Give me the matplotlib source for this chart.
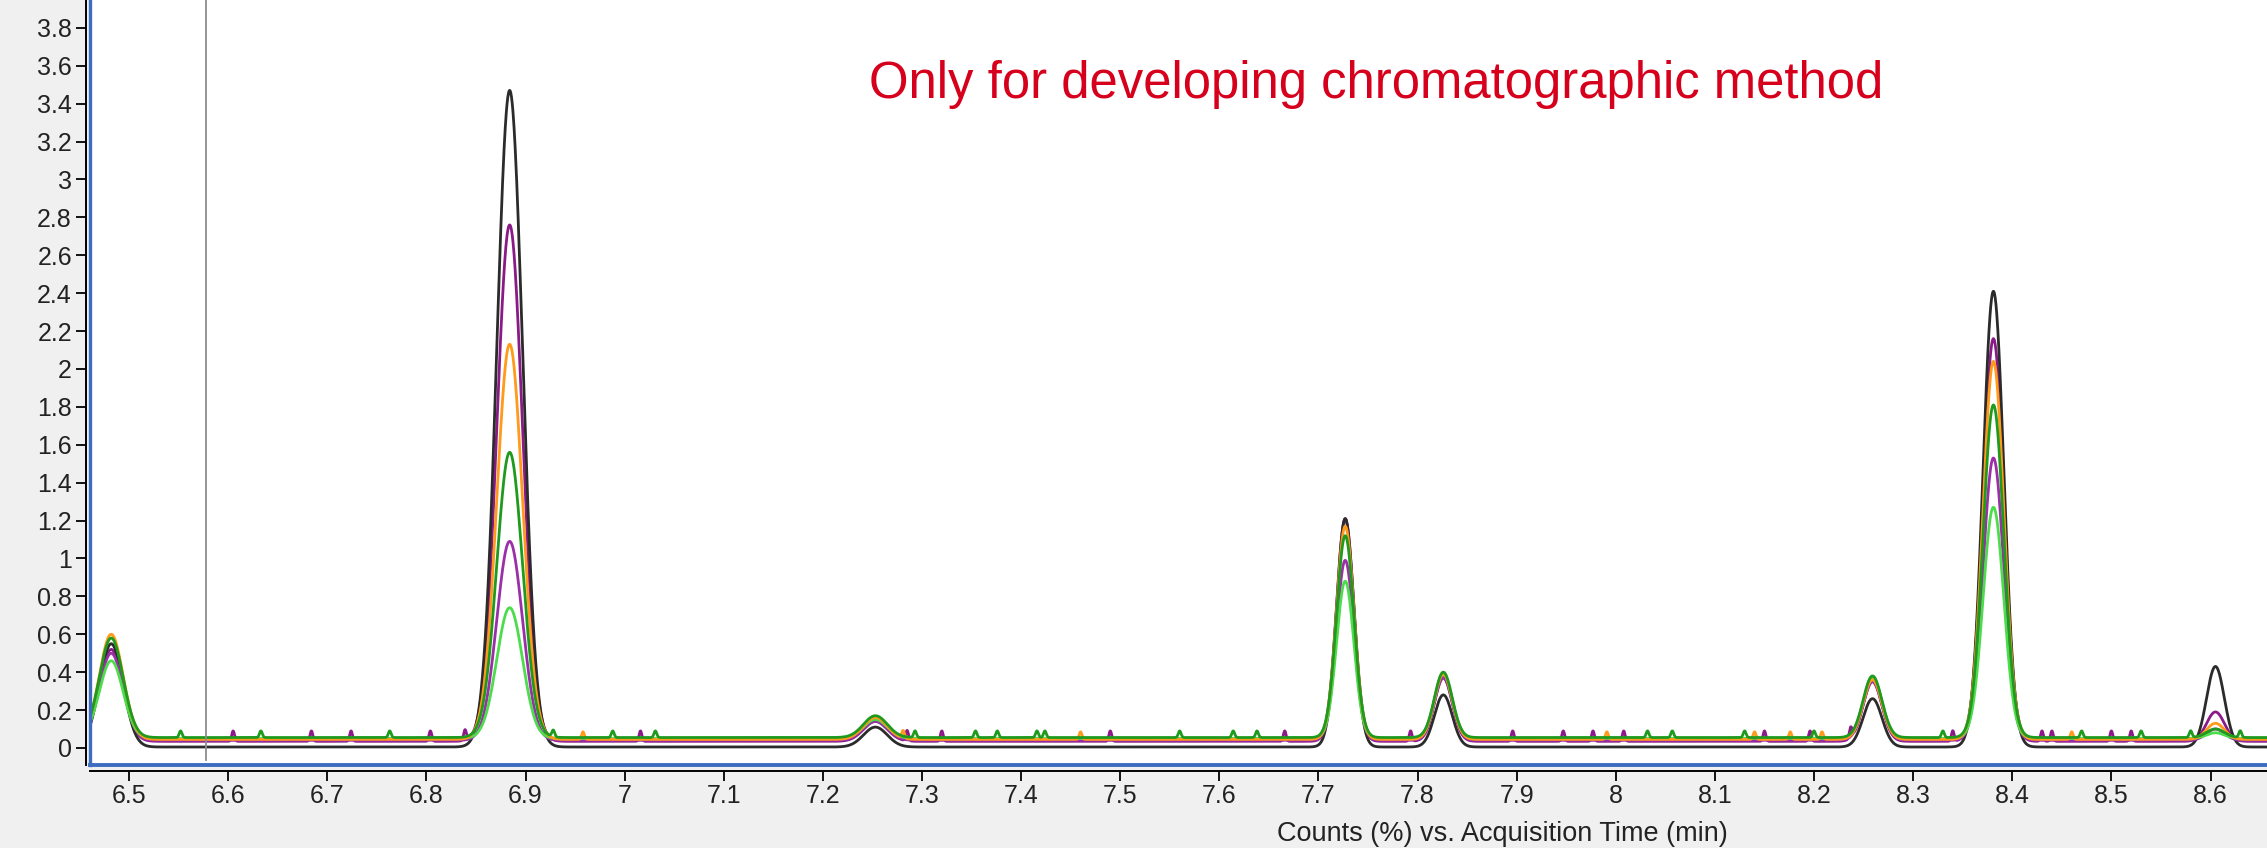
import numpy as np
import matplotlib.pyplot as plt
from matplotlib.lines import Line2D

# retention times (min) and peak widths (sigma, min)
rt = [6.482, 6.884, 7.253, 7.727, 7.826, 8.259, 8.381, 8.605]
sigma = [0.012, 0.013, 0.012, 0.0088, 0.009, 0.0095, 0.0105, 0.009]

# apex heights (counts %) for each injection, same order as rt
apex_black = [0.55, 3.47, 0.11, 1.21, 0.28, 0.26, 2.41, 0.43]
apex_purple = [0.52, 2.76, 0.14, 1.21, 0.37, 0.35, 2.16, 0.19]
apex_orange = [0.60, 2.13, 0.16, 1.17, 0.39, 0.36, 2.04, 0.13]
apex_green = [0.58, 1.56, 0.17, 1.12, 0.40, 0.38, 1.81, 0.10]
apex_violet = [0.50, 1.09, 0.14, 0.99, 0.37, 0.35, 1.53, 0.10]
apex_lime = [0.46, 0.74, 0.15, 0.88, 0.39, 0.37, 1.27, 0.08]

# baseline offsets
base_black, base_purple, base_orange = 0.005, 0.035, 0.045
base_green, base_violet, base_lime = 0.055, 0.04, 0.05

# noise spikes on baseline (min)
spk_purple = [6.605, 6.684, 6.724, 6.804, 6.839, 7.016, 7.285, 7.320, 7.49, 7.666,
              7.793, 7.896, 7.947, 7.977, 8.008, 8.15, 8.196, 8.237, 8.340, 8.43,
              8.44, 8.50, 8.52]
spk_orange = [6.958, 7.281, 7.46, 7.991, 8.14, 8.176, 8.208, 8.46]
spk_green = [6.552, 6.633, 6.763, 6.928, 6.988, 7.031, 7.293, 7.354, 7.376, 7.416,
             7.424, 7.56, 7.614, 7.638, 8.032, 8.057, 8.13, 8.20, 8.330, 8.47,
             8.53, 8.58, 8.63]

t = np.linspace(6.44, 8.68, 6000)


def trace(apex, base, spikes=(), spike_h=0.035):
    y = np.full_like(t, base)
    for c, s, a in zip(rt, sigma, apex):
        y += (a - base) * np.exp(-0.5 * ((t - c) / s) ** 2)
    for c in spikes:
        y += spike_h * np.exp(-0.5 * ((t - c) / 0.0014) ** 2)
    return y


W, H = 2267, 848
fig = plt.figure(figsize=(W / 100, H / 100), dpi=100, facecolor='#F0F0F0')
ax = fig.add_axes([90 / W, (H - 765) / H, (W - 90) / W, 765 / H])
ax.set_facecolor('white')

lw = 2.0
ax.plot(t, trace(apex_black, base_black), color='#2b2b2b', lw=lw)
ax.plot(t, trace(apex_violet, base_violet), color='#9a2fa8', lw=lw)
ax.plot(t, trace(apex_lime, base_lime), color='#4cdc4c', lw=lw)
ax.plot(t, trace(apex_orange, base_orange, spk_orange, 0.04), color='#ff9a1a', lw=lw)
ax.plot(t, trace(apex_green, base_green, spk_green), color='#1e9a1e', lw=lw)
ax.plot(t, trace(apex_purple, base_purple, spk_purple, 0.055), color='#8b1a89', lw=lw,
        zorder=1.9)

# cursor line
ax.axvline(6.578, ymin=0.007, color='#8c8c8c', lw=1.3)

ax.set_xlim(6.4606, 8.657)
ax.set_ylim(-0.09, 3.947)
ax.set_xticks(np.arange(6.5, 8.61, 0.1))
ax.set_yticks(np.arange(0, 3.81, 0.2))
ax.xaxis.set_major_formatter(plt.FuncFormatter(lambda v, p: '%g' % round(v, 1)))
ax.yaxis.set_major_formatter(plt.FuncFormatter(lambda v, p: '%g' % round(v, 1)))

for side in ['top', 'right']:
    ax.spines[side].set_visible(False)
ax.spines['left'].set_position(('outward', 3))
ax.spines['bottom'].set_position(('outward', 4))
ax.spines['left'].set_linewidth(1.4)
ax.spines['bottom'].set_linewidth(1.4)
ax.tick_params(direction='out', length=7, width=1.3, labelsize=18, pad=3)
for lab in ax.get_xticklabels() + ax.get_yticklabels():
    lab.set_family('Liberation Sans')
    lab.set_color('#222222')

# blue frame on the plot area
blue = '#3d6cc0'
fig.add_artist(Line2D([90 / W, 90 / W], [(H - 765) / H, 1], color=blue, lw=2.4,
                      transform=fig.transFigure))
fig.add_artist(Line2D([90 / W, 1], [(H - 765) / H, (H - 765) / H], color=blue, lw=2.8,
                      transform=fig.transFigure))

fig.text(1502 / W, (H - 834) / H, 'Counts (%) vs. Acquisition Time (min)',
         ha='center', va='center', fontsize=19.5, family='Liberation Sans', color='#222222')
fig.text(869 / W, (H - 98) / H, 'Only for developing chromatographic method',
         ha='left', va='baseline', fontsize=36.6, family='Liberation Sans', color='#d6001c')

fig.savefig('out.png', dpi=100, facecolor=fig.get_facecolor())
